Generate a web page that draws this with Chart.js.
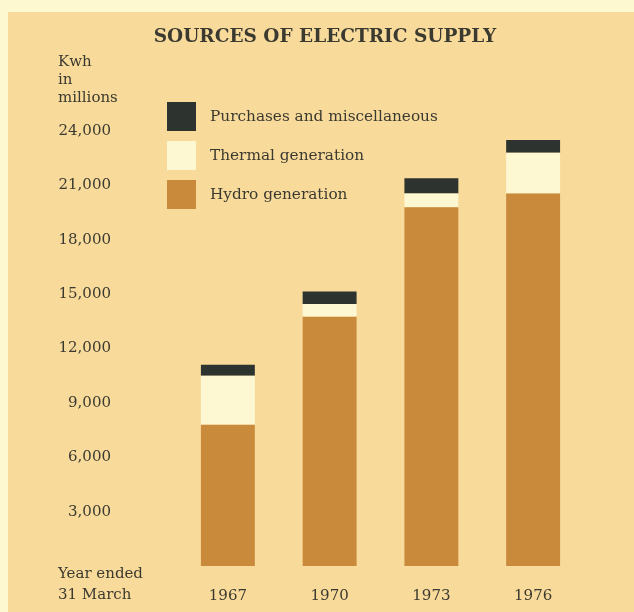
<!DOCTYPE html>
<html>
<head>
<meta charset="utf-8">
<script src="https://cdn.jsdelivr.net/npm/chart.js@4"></script>
<style>
  html, body { margin: 0; padding: 0; background: #fdf8cf; }
  #wrap { position: absolute; left: 0; top: 0; width: 634px; height: 612px; }
</style>
</head>
<body>
<div id="wrap"><canvas id="c" width="634" height="612"></canvas></div>
<script>
// Years ended 31 March
const years = ['1967', '1970', '1973', '1976'];
// Kwh in millions
const hydro = [7800, 13750, 19800, 20550];
const thermal = [2700, 700, 750, 2250];
const purchases = [600, 700, 850, 700];
const yTicks = [3000, 6000, 9000, 12000, 15000, 18000, 21000, 24000];

const FONT = '"DejaVu Serif", serif';
const INK = '#3b3a30';
const PANEL = '#f8da9b';

// Paper panel, headings and the key
const decor = {
  id: 'decor',
  beforeDraw(chart) {
    const ctx = chart.ctx;
    ctx.save();
    ctx.fillStyle = '#fdf8cf';
    ctx.fillRect(0, 0, chart.width, chart.height);
    ctx.fillStyle = PANEL;
    ctx.fillRect(8, 12, chart.width - 8, chart.height - 12);
    ctx.restore();
  },
  afterDraw(chart) {
    const ctx = chart.ctx;
    ctx.save();
    ctx.fillStyle = INK;
    ctx.textBaseline = 'middle';

    ctx.font = 'bold 18.5px ' + FONT;
    ctx.textAlign = 'center';
    ctx.fillText('SOURCES OF ELECTRIC SUPPLY', 325, 37);

    ctx.font = '15px ' + FONT;
    ctx.textAlign = 'left';
    ctx.fillText('Kwh', 58, 62);
    ctx.fillText('in', 58, 80);
    ctx.fillText('millions', 58, 98);
    ctx.fillText('Year ended', 58, 574);
    ctx.fillText('31 March', 58, 595);

    // key, top entry is the top of each stack
    const ds = chart.data.datasets.slice().reverse();
    const boxTops = [102, 141, 180];
    ctx.font = '15.3px ' + FONT;
    ds.forEach((d, i) => {
      const y = boxTops[i];
      ctx.fillStyle = d.backgroundColor;
      ctx.fillRect(167, y, 29, 29);
      ctx.fillStyle = INK;
      ctx.fillText(d.label, 210, y + 15);
    });
    ctx.restore();
  }
};

new Chart(document.getElementById('c'), {
  type: 'bar',
  data: {
    labels: years,
    datasets: [
      { label: 'Hydro generation', data: hydro, backgroundColor: '#c98a3c' },
      { label: 'Thermal generation', data: thermal, backgroundColor: '#fdf7d2' },
      { label: 'Purchases and miscellaneous', data: purchases, backgroundColor: '#2d332e' }
    ]
  },
  options: {
    responsive: false,
    animation: false,
    layout: { padding: { left: 0, right: 50, top: 131, bottom: 0 } },
    datasets: {
      bar: { barPercentage: 0.53, categoryPercentage: 1, borderWidth: 0 }
    },
    plugins: {
      legend: { display: false },
      title: { display: false },
      tooltip: { enabled: false }
    },
    scales: {
      x: {
        stacked: true,
        grid: { display: false, drawTicks: false },
        border: { display: false },
        ticks: { color: INK, font: { family: FONT, size: 15 }, padding: 21 },
        afterFit(s) { s.height = 46; }
      },
      y: {
        stacked: true,
        min: 0,
        max: 24000,
        grid: { display: false, drawTicks: false },
        border: { display: false },
        afterBuildTicks(s) { s.ticks = yTicks.map(v => ({ value: v })); },
        ticks: {
          color: INK,
          font: { family: FONT, size: 15 },
          padding: 66,
          callback: v => v.toLocaleString('en-US')
        },
        afterFit(s) { s.width = 177; s.paddingTop = 0; s.paddingBottom = 0; }
      }
    }
  },
  plugins: [decor]
});
</script>
</body>
</html>
